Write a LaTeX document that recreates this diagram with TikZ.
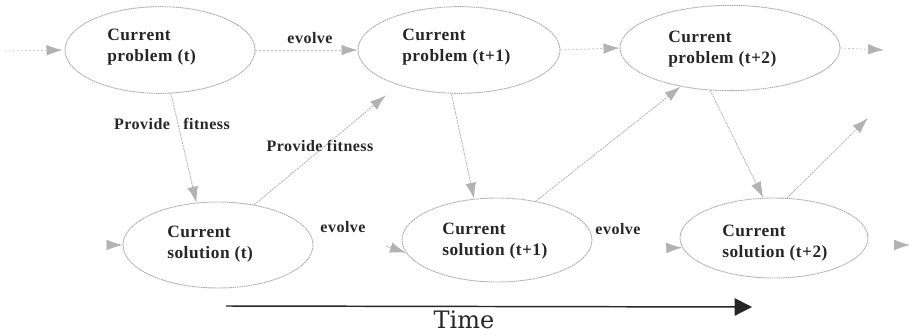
\documentclass[tikz,border=0pt]{standalone}
\usepackage{fontspec}
\setmainfont{Liberation Serif}
\newfontfamily\nodefont[LetterSpace=3]{Liberation Serif}
\newfontfamily\timefont{DejaVu Serif}
\usetikzlibrary{arrows.meta,shapes.geometric}
\begin{document}
\begin{tikzpicture}[x=0.75pt,y=-0.75pt,
  state/.style={ellipse, draw=gray!65, line width=0.7pt, dash pattern=on 1.2pt off 0.5pt, inner sep=0pt},
  txt/.style={font=\nodefont\fontsize{13}{16}\selectfont\bfseries, align=left, inner sep=0pt, text=black!85, anchor=west},
  lbl/.style={font=\nodefont\fontsize{12}{14}\selectfont\bfseries, inner sep=0pt, text=black!85},
  tip/.style={-{Latex[length=12pt,width=8pt,color=gray!60,fill=gray!60]}},
  conn/.style={tip, draw=gray!60, line width=0.6pt, dash pattern=on 1.5pt off 0.7pt},
  evo/.style={tip, draw=gray!55, line width=0.6pt, dash pattern=on 1pt off 2pt},
  stub/.style={tip, draw=gray!50, line width=0.6pt},
  timearrow/.style={draw=black!85, line width=1.1pt, -{Triangle[length=13pt,width=13pt]}},
]
\useasboundingbox (0,0) rectangle (912,335);

% problems
\node[state, minimum width=142.5pt, minimum height=65pt] (p0) at (160,50) {};
\node[state, minimum width=151.5pt, minimum height=65pt] (p1) at (459,50) {};
\node[state, minimum width=165pt, minimum height=64pt] (p2) at (730,48) {};
% solutions
\node[state, minimum width=142.5pt, minimum height=64.5pt] (s0) at (218,245) {};
\node[state, minimum width=142.5pt, minimum height=63pt] (s1) at (497,240) {};
\node[state, minimum width=141pt, minimum height=60pt] (s2) at (774,238) {};

% texts
\node[txt] (p0t) at (107,47) {Current\\problem (t)};
\node[txt] (p1t) at (402,47) {Current\\problem (t+1)};
\node[txt] (p2t) at (668,49) {Current\\problem (t+2)};
\node[txt] (s0t) at (167,244) {Current\\solution (t)};
\node[txt] (s1t) at (442,241) {Current\\solution (t+1)};
\node[txt] (s2t) at (722,243) {Current\\solution (t+2)};

% labels
\node[lbl] (e0) at (310,38) {evolve};
\node[lbl] (e1) at (343,227) {evolve};
\node[lbl] (e2) at (618,229) {evolve};
\node[lbl] (f0) at (172,124) {Provide\hspace{10pt}fitness};
\node[lbl] (f1) at (320,146) {Provide fitness};

% free ends
\coordinate (inL) at (5,51);
\coordinate (outR) at (884,50);
\coordinate (sa0) at (107,245);
\coordinate (sa1) at (386,246);
\coordinate (sa2) at (666,248);
\coordinate (sr0) at (894,245);
\coordinate (sr1) at (910,245);
\coordinate (fe) at (868,118);

% top row evolve
\draw[evo, shorten >=1.5pt] (inL) -- (p0.west);
\draw[evo] (p0.east) -- (p1.west);
\draw[evo] (p1.east) -- (p2.west);
\draw[evo] (p2.east) -- (outR);

% bottom stubs
\draw[stub] (sa0) -- (s0.west);
\draw[stub] (sa1) -- (s1.188);
\draw[stub] (sa2) -- (s2.186);
\draw[stub] (sr0) -- (sr1);

% fitness connectors
\draw[conn] (p0.-76.6) -- (s0.117);
\draw[conn, shorten >=12pt] (s0.48.6) -- (p1.210.5);
\draw[conn] (p1.260.8) -- (s1.119.7);
\draw[conn] (s1.45) -- (p2.218.4);
\draw[conn] (p2.245.6) -- (s2.105);
\draw[conn] (s2.72.4) -- (fe);

% time
\coordinate (ta) at (226,306);
\coordinate (tb) at (752,307);
\draw[timearrow] (ta) -- (tb);
\node[font=\timefont\fontsize{18}{20}\selectfont, inner sep=0pt, text=black!85] (time) at (464,320) {Time};
\end{tikzpicture}
\end{document}
